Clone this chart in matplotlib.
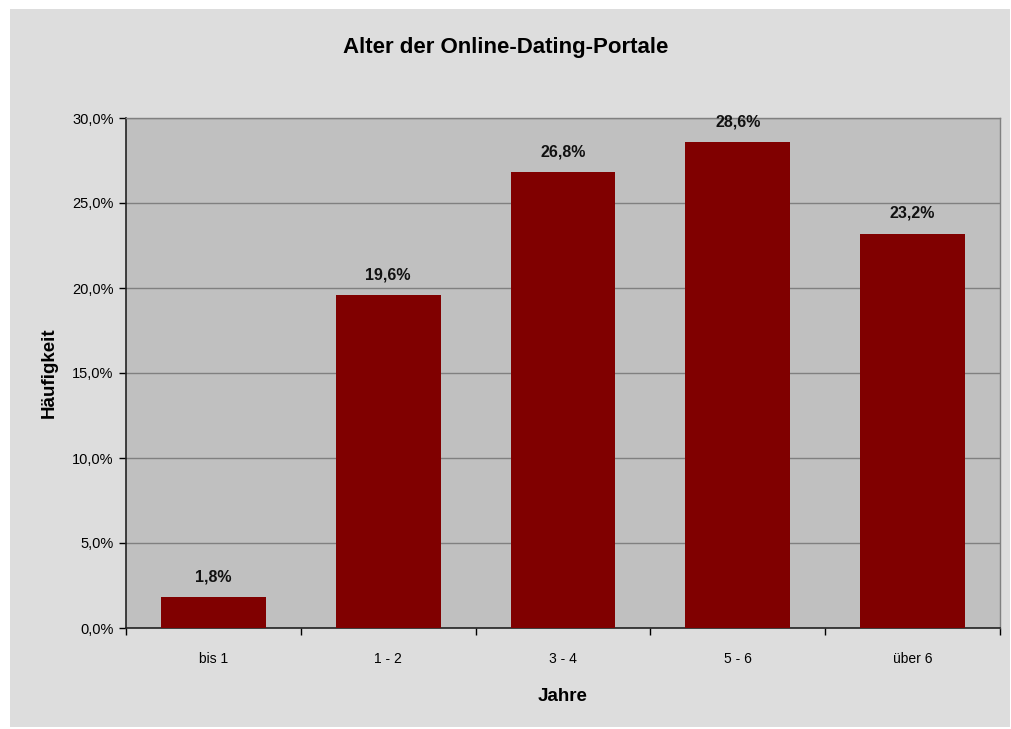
import matplotlib.pyplot as plt
from matplotlib.patches import Rectangle

categories = ["bis 1", "1 - 2", "3 - 4", "5 - 6", "über 6"]
values = [1.8, 19.6, 26.8, 28.6, 23.2]
yticks = [0, 5, 10, 15, 20, 25, 30]

plt.rcParams['font.family'] = ['Liberation Sans', 'DejaVu Sans']

W, H = 1012, 729
fig = plt.figure(figsize=(W / 100, H / 100), dpi=100)
fig.patch.set_facecolor('white')
fig.patches.append(Rectangle((10 / W, 2 / H), 1000 / W, 718 / H, transform=fig.transFigure,
                             facecolor='#dddddd', edgecolor='none', zorder=-10))

ax = fig.add_axes([126 / W, 1 - 628 / H, 874 / W, 510 / H])
ax.set_facecolor('#c0c0c0')

x = range(len(categories))
ax.bar(x, values, width=0.6, color='#800000', zorder=3)
for xi, v in zip(x, values):
    ax.text(xi, v + 0.75, f"{v:.1f}%".replace('.', ','), ha='center', va='bottom',
            fontsize=11.5, fontweight='bold', color='#111111')

ax.set_xlim(-0.5, len(categories) - 0.5)
ax.set_ylim(0, 30)
ax.set_yticks(yticks)
ax.set_yticklabels([f"{t:.1f}%".replace('.', ',') for t in yticks], fontsize=10.5)
ax.yaxis.grid(True, color='#808080', linewidth=1, zorder=1)
ax.set_axisbelow(True)

ax.set_xticks(list(x))
ax.set_xticklabels(categories, fontsize=10)
ax.tick_params(axis='x', length=0, pad=17)
ax.set_xticks([i - 0.5 for i in range(len(categories) + 1)], minor=True)
ax.tick_params(axis='x', which='minor', length=5, direction='out', width=1)
ax.tick_params(axis='y', length=5, direction='out', width=1, pad=4)

for side in ['left', 'bottom']:
    ax.spines[side].set_color('#222222')
    ax.spines[side].set_linewidth(1.2)
for side in ['top', 'right']:
    ax.spines[side].set_color('#808080')
    ax.spines[side].set_linewidth(1)

ax.set_xlabel("Jahre", fontsize=13.5, fontweight='bold', labelpad=16)
ax.set_ylabel("Häufigkeit", fontsize=13.5, fontweight='bold', labelpad=10)
fig.text(0.5, 1 - 47 / H, "Alter der Online-Dating-Portale", ha='center', va='center',
         fontsize=16, fontweight='bold')

fig.savefig("out.png", dpi=100, facecolor=fig.get_facecolor())
